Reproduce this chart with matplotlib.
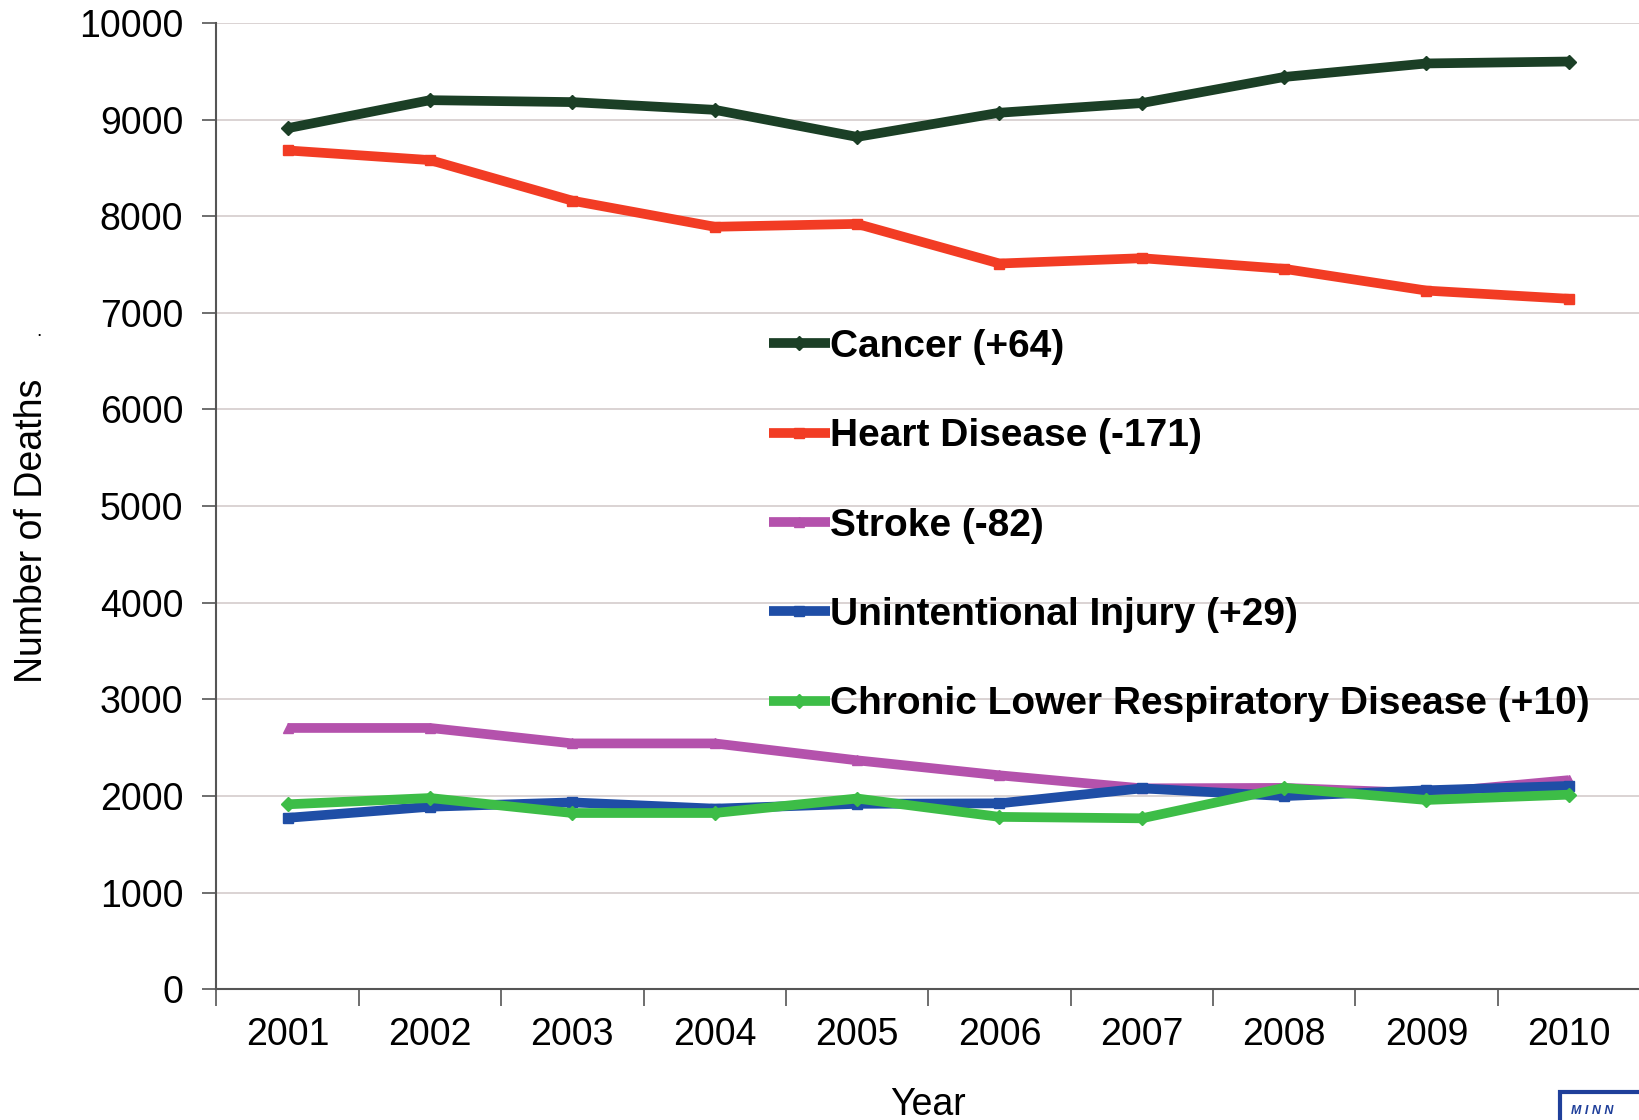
import numpy as np
import matplotlib
matplotlib.use('Agg')
import matplotlib.pyplot as plt
from matplotlib.ticker import FixedLocator, NullFormatter
from matplotlib.patches import Rectangle

plt.rcParams['font.family'] = ['Liberation Sans', 'DejaVu Sans']

years = [2001, 2002, 2003, 2004, 2005, 2006, 2007, 2008, 2009, 2010]
cancer = [8910, 9200, 9180, 9100, 8820, 9070, 9170, 9440, 9580, 9600]
heart = [8680, 8580, 8160, 7890, 7920, 7510, 7565, 7455, 7230, 7145]
stroke = [2705, 2705, 2545, 2545, 2370, 2215, 2080, 2085, 2030, 2165]
injury = [1775, 1890, 1935, 1870, 1920, 1925, 2080, 2000, 2060, 2105]
clrd = [1915, 1980, 1825, 1825, 1975, 1785, 1770, 2085, 1960, 2015]

labels = ['Cancer (+64)', 'Heart Disease (-171)', 'Stroke (-82)',
          'Unintentional Injury (+29)',
          'Chronic Lower Respiratory Disease (+10)']
colors = ['#1b3f26', '#f23c24', '#b452ac', '#1f4ea6', '#3dbd47']
markers = ['D', 's', '^', 's', 'D']

fig = plt.figure(figsize=(16.4, 11.2), dpi=100)
ax = fig.add_axes([0.132, 0.1166, 0.868, 0.863])

xx = np.arange(1, len(years) + 1)
series = [cancer, heart, stroke, injury, clrd]
for yy, lab, col, mk in zip(series, labels, colors, markers):
    ax.plot(xx, yy, color=col, lw=7, marker=mk, ms=7, label=lab,
            solid_joinstyle='round', solid_capstyle='butt')

ax.set_xlim(0.5, len(years) + 0.5)
ax.set_ylim(0, 10000)
ax.set_yticks(np.arange(0, 10001, 1000))
ax.yaxis.grid(True, color='#d4cccc', lw=1.2)
ax.set_axisbelow(True)

ax.xaxis.set_major_locator(FixedLocator(np.arange(0.5, len(years) + 1, 1)))
ax.xaxis.set_major_formatter(NullFormatter())
ax.xaxis.set_minor_locator(FixedLocator(xx))
ax.set_xticklabels([str(y) for y in years], minor=True)
ax.tick_params(axis='x', which='major', length=12, width=1.2, color='#555555')
ax.tick_params(axis='x', which='minor', length=0, pad=20, labelsize=27)
ax.tick_params(axis='y', length=10, width=1.2, color='#555555', pad=14,
               labelsize=27)

for s in ['top', 'right']:
    ax.spines[s].set_visible(False)
for s in ['left', 'bottom']:
    ax.spines[s].set_color('#555555')
    ax.spines[s].set_linewidth(1.5)

ax.set_xlabel('Year', fontsize=27)
ax.xaxis.set_label_coords(0.5, -0.101)
ax.set_ylabel('Number of Deaths', fontsize=27)
ax.yaxis.set_label_coords(-0.117, 0.474)
fig.text(0.022, 0.70, '.', fontsize=14)

leg = ax.legend(loc='upper left', bbox_to_anchor=(0.457, 0.7236),
                bbox_transform=fig.transFigure, frameon=False,
                prop={'weight': 'bold', 'size': 28}, handlelength=1.56,
                handletextpad=0.0, labelspacing=1.37, borderpad=0,
                markerscale=1.0)

# logo corner
fig.patches.append(Rectangle((0.951, -0.01), 0.06, 0.035,
                             transform=fig.transFigure, fc='white',
                             ec='#1f3f9a', lw=3))
fig.text(0.958, 0.005, 'M I N N', fontsize=9, color='#1f3f9a',
         weight='bold', style='italic')

fig.savefig('out.png', dpi=100)
